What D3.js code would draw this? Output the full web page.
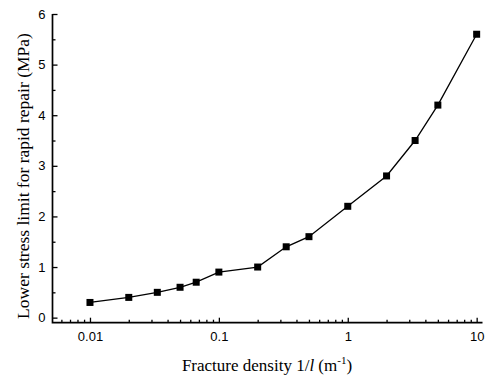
<!DOCTYPE html>
<html>
<head>
<meta charset="utf-8">
<script src="https://cdn.jsdelivr.net/npm/d3@7/dist/d3.min.js"></script>
<style>
  html, body { margin: 0; padding: 0; background: #fff; }
  svg { display: block; }
</style>
</head>
<body>
<script>
// Fracture density (1/l, m^-1) and the lower stress limit for rapid repair (MPa)
const density = [0.01, 0.02, 0.0333, 0.05, 0.0667, 0.1, 0.2, 0.333, 0.5, 1, 2, 3.33, 5, 10];
const stressLimit = [0.3, 0.4, 0.5, 0.6, 0.7, 0.9, 1.0, 1.4, 1.6, 2.2, 2.8, 3.5, 4.2, 5.6];

const xMajorTicks = [0.01, 0.1, 1, 10];
const xMinorTicks = [0.006, 0.007, 0.008, 0.009,
  0.02, 0.03, 0.04, 0.05, 0.06, 0.07, 0.08, 0.09,
  0.2, 0.3, 0.4, 0.5, 0.6, 0.7, 0.8, 0.9,
  2, 3, 4, 5, 6, 7, 8, 9];
const yMajorTicks = [0, 1, 2, 3, 4, 5, 6];
const yMinorTicks = [0.5, 1.5, 2.5, 3.5, 4.5, 5.5];
const xTickLabels = ["0.01", "0.1", "1", "10"];

const W = 487, H = 377;
const svg = d3.select("body").append("svg").attr("width", W).attr("height", H);

const x = d3.scaleLog().domain([0.00512, 11.1]).range([52.5, 482.5]);
const y = d3.scaleLinear().domain([-0.1, 6]).range([322.7, 14]);

const tickFont = "'Liberation Sans', Arial, sans-serif";
const titleFont = "'Liberation Serif', 'Times New Roman', serif";

// X axis: major ticks with labels, minor ticks without
const xAxisG = svg.append("g").attr("transform", `translate(0,${y(-0.1)})`);
xAxisG.call(d3.axisBottom(x).tickValues(xMajorTicks).tickSize(-5).tickPadding(9)
  .tickFormat((d, i) => xTickLabels[i]));
xAxisG.append("g").call(d3.axisBottom(x).tickValues(xMinorTicks).tickSize(-3).tickFormat(""))
  .select(".domain").remove();
xAxisG.select(".domain").remove();
xAxisG.selectAll(".tick line").attr("stroke", "#000").attr("stroke-width", 1.3);
xAxisG.selectAll(".tick text").attr("font-family", tickFont).attr("font-size", 13).attr("fill", "#000");

// Y axis
const yAxisG = svg.append("g").attr("transform", `translate(${x(0.00512)},0)`);
yAxisG.call(d3.axisLeft(y).tickValues(yMajorTicks).tickSize(-5).tickPadding(7).tickFormat(d3.format("d")));
yAxisG.append("g").call(d3.axisLeft(y).tickValues(yMinorTicks).tickSize(-3).tickFormat(""))
  .select(".domain").remove();
yAxisG.select(".domain").remove();
yAxisG.selectAll(".tick line").attr("stroke", "#000").attr("stroke-width", 1.3);
yAxisG.selectAll(".tick text").attr("font-family", tickFont).attr("font-size", 13).attr("fill", "#000");

// Axis lines
svg.append("path")
  .attr("d", `M${x(0.00512)},${y(6)}V${y(-0.1)}H${x(11.1)}`)
  .attr("fill", "none").attr("stroke", "#000").attr("stroke-width", 1.7);

// Data line and square markers
const line = d3.line().x((d, i) => x(density[i])).y(d => y(d));
svg.append("path").datum(stressLimit)
  .attr("d", line).attr("fill", "none").attr("stroke", "#000").attr("stroke-width", 1.3);

const ms = 7;
svg.append("g").selectAll("rect").data(stressLimit).join("rect")
  .attr("x", (d, i) => x(density[i]) - ms / 2)
  .attr("y", d => y(d) - ms / 2)
  .attr("width", ms).attr("height", ms).attr("fill", "#000");

// Axis titles
const xt = svg.append("text")
  .attr("x", 267).attr("y", 371)
  .attr("text-anchor", "middle")
  .attr("font-family", titleFont).attr("font-size", 17).attr("fill", "#000");
xt.append("tspan").text("Fracture density 1/");
xt.append("tspan").attr("font-style", "italic").text("l");
xt.append("tspan").text(" (m");
xt.append("tspan").attr("font-size", 11).attr("dy", -7).text("-1");
xt.append("tspan").attr("dy", 7).text(")");

svg.append("text")
  .attr("transform", `translate(29,176) rotate(-90)`)
  .attr("text-anchor", "middle")
  .attr("font-family", titleFont).attr("font-size", 17.5).attr("fill", "#000")
  .text("Lower stress limit for rapid repair (MPa)");
</script>
</body>
</html>
